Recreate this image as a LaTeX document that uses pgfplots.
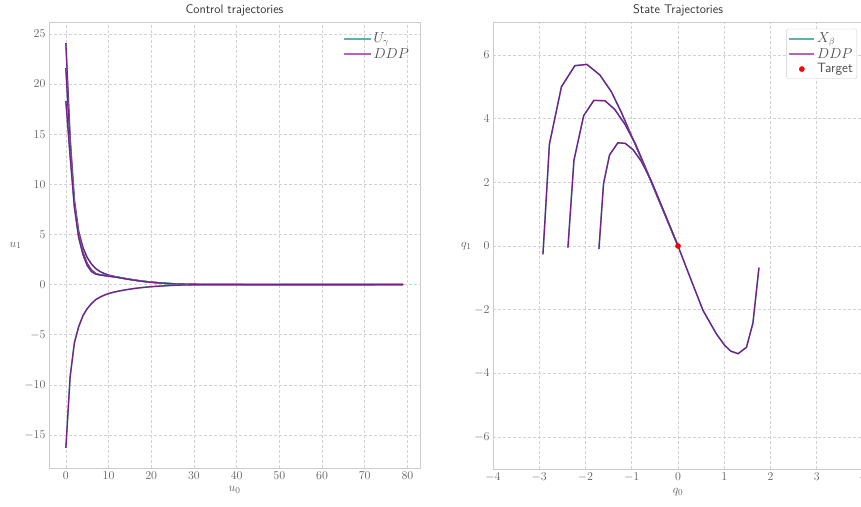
\documentclass[border=0pt]{standalone}
\usepackage{pgfplots}
\pgfplotsset{compat=1.18}
\definecolor{tealc}{RGB}{90,180,172}
\definecolor{ddpc}{RGB}{179,102,179}
\definecolor{lined}{RGB}{120,30,140}
\definecolor{spine}{RGB}{204,204,204}
\definecolor{gridc}{RGB}{210,210,210}
\definecolor{tickc}{RGB}{95,95,95}
\pgfplotsset{
 mystyle/.style={
  scale only axis,
  axis line style={spine, line width=1pt},
  tick style={draw=none},
  grid=major,
  major grid style={gridc, line width=0.6pt, dash pattern=on 3pt off 2pt},
  tick label style={font=\fontsize{11.5}{13}\selectfont, color=tickc},
  label style={font=\fontsize{12.5}{14}\selectfont, color=tickc},
  title style={font=\sffamily\fontsize{12.5}{14}\selectfont, color=black!80, yshift=-3pt},
  legend style={font=\fontsize{13.5}{15}\selectfont, text=black!70, row sep=0pt},
  legend cell align=left,
  ylabel style={rotate=-90},
  ylabel shift=-4pt,
  tline/.style={tealc, line width=1.5pt, forget plot},
  dline/.style={lined, line width=1.3pt, forget plot},
 }
}
\begin{document}
\begin{tikzpicture}
\begin{axis}[mystyle,
  at={(49pt,38pt)}, anchor=south west, width=371pt, height=445pt,
  xmin=-3.95, xmax=82.95, ymin=-18.3, ymax=26.1,
  xtick={0,10,...,80}, ytick={-15,-10,...,25},
  title={Control trajectories}, xlabel={$u_0$}, ylabel={$u_1$},
  legend style={at={(0.984,0.987)}, anchor=north east, draw=none, fill=none},
]
\addlegendimage{legend image code/.code={\draw[tealc, line width=1.8pt] (0pt,0pt) -- (27pt,0pt);}}
\addlegendentry{$U_\gamma$}
\addlegendimage{legend image code/.code={\draw[ddpc, line width=1.8pt] (0pt,0pt) -- (27pt,0pt);}}
\addlegendentry{$DDP$}
% curve A
\addplot[tline] coordinates {(0,24.1)(1,14.6)(2,8.4)(3,5.3)(4,3.7)(5,2.7)(6,2.05)(7,1.6)(8,1.3)(9,1.1)(10,0.95)(11,0.85)(12,0.76)(14,0.6)(16,0.46)(18,0.34)(20,0.25)(22,0.17)(24,0.11)(26,0.07)(28,0.04)(30,0.02)(35,0.01)(79,0)};
\addplot[dline] coordinates {(0,24.1)(1,14.6)(2,8.4)(3,5.3)(4,3.7)(5,2.7)(6,2.05)(7,1.6)(8,1.3)(9,1.1)(10,0.95)(11,0.85)(12,0.76)(14,0.6)(16,0.46)(18,0.34)(20,0.25)(22,0.17)(24,0.11)(26,0.07)(28,0.04)(30,0.02)(35,0.01)(79,0)};
% curve B
\addplot[tline] coordinates {(0,21.6)(1,13.8)(2,8.0)(3,4.9)(4,3.2)(5,2.1)(6,1.45)(7,1.1)(8,0.98)(9,0.92)(10,0.86)(11,0.8)(12,0.74)(14,0.59)(16,0.45)(18,0.33)(20,0.24)(22,0.16)(24,0.1)(26,0.06)(28,0.04)(30,0.02)(35,0.01)(79,0)};
\addplot[dline] coordinates {(0,21.6)(1,13.8)(2,8.0)(3,4.9)(4,3.2)(5,2.1)(6,1.45)(7,1.1)(8,0.98)(9,0.92)(10,0.86)(11,0.8)(12,0.74)(14,0.59)(16,0.45)(18,0.33)(20,0.24)(22,0.16)(24,0.1)(26,0.06)(28,0.04)(30,0.02)(35,0.01)(79,0)};
% curve C
\addplot[tline] coordinates {(0,18.3)(1,12.8)(2,7.7)(3,4.7)(4,3.0)(5,1.9)(6,1.3)(7,1.05)(8,0.96)(9,0.9)(10,0.84)(11,0.78)(12,0.72)(14,0.57)(16,0.44)(18,0.32)(20,0.23)(22,0.16)(24,0.1)(26,0.06)(28,0.04)(30,0.02)(35,0.01)(79,0)};
\addplot[dline] coordinates {(0,18.3)(1,12.8)(2,7.7)(3,4.7)(4,3.0)(5,1.9)(6,1.3)(7,1.05)(8,0.96)(9,0.9)(10,0.84)(11,0.78)(12,0.72)(14,0.57)(16,0.44)(18,0.32)(20,0.23)(22,0.16)(24,0.1)(26,0.06)(28,0.04)(30,0.02)(35,0.01)(79,0)};
% curve D
\addplot[tline] coordinates {(0,-16.3)(1,-9.2)(2,-5.8)(3,-4.2)(4,-3.1)(5,-2.4)(6,-1.9)(7,-1.5)(8,-1.25)(9,-1.05)(10,-0.9)(11,-0.78)(12,-0.68)(14,-0.52)(16,-0.39)(18,-0.29)(20,-0.21)(22,-0.15)(24,-0.1)(26,-0.06)(28,-0.04)(30,-0.02)(35,-0.01)(79,0)};
\addplot[dline] coordinates {(0,-16.3)(1,-9.2)(2,-5.8)(3,-4.2)(4,-3.1)(5,-2.4)(6,-1.9)(7,-1.5)(8,-1.25)(9,-1.05)(10,-0.9)(11,-0.78)(12,-0.68)(14,-0.52)(16,-0.39)(18,-0.29)(20,-0.21)(22,-0.15)(24,-0.1)(26,-0.06)(28,-0.04)(30,-0.02)(35,-0.01)(79,0)};
\end{axis}
\begin{axis}[mystyle,
  at={(493pt,37pt)}, anchor=south west, width=370pt, height=446pt,
  xmin=-4, xmax=4, ymin=-7, ymax=7,
  xtick={-4,-3,...,4}, ytick={-6,-4,...,6},
  title={State Trajectories}, xlabel={$q_0$}, ylabel={$q_1$},
  legend style={at={(0.984,0.987)}, anchor=north east, draw=spine, fill=white, rounded corners=2pt, inner sep=2pt},
]
\addlegendimage{legend image code/.code={\draw[tealc, line width=1.8pt] (0pt,0pt) -- (25pt,0pt);}}
\addlegendentry{$X_\beta$}
\addlegendimage{legend image code/.code={\draw[ddpc, line width=1.8pt] (0pt,0pt) -- (25pt,0pt);}}
\addlegendentry{$DDP$}
\addlegendimage{legend image code/.code={\fill[red] (12.5pt,0pt) circle (2.6pt);}}
\addlegendentry{\sffamily Target}
\addplot[tline] coordinates {(-2.92,-0.26)(-2.78,3.2)(-2.52,5.0)(-2.23,5.66)(-1.97,5.70)(-1.69,5.37)(-1.44,4.84)(-1.22,4.18)(-1.0,3.44)(-0.75,2.6)(-0.5,1.74)(-0.25,0.87)(0,0)};
\addplot[dline] coordinates {(-2.92,-0.26)(-2.78,3.2)(-2.52,5.0)(-2.23,5.66)(-1.97,5.70)(-1.69,5.37)(-1.44,4.84)(-1.22,4.18)(-1.0,3.44)(-0.75,2.6)(-0.5,1.74)(-0.25,0.87)(0,0)};
\addplot[tline] coordinates {(-2.38,-0.05)(-2.25,2.69)(-2.04,4.09)(-1.82,4.57)(-1.58,4.56)(-1.37,4.29)(-1.15,3.83)(-0.92,3.2)(-0.68,2.38)(-0.45,1.56)(-0.22,0.77)(0,0)};
\addplot[dline] coordinates {(-2.38,-0.05)(-2.25,2.69)(-2.04,4.09)(-1.82,4.57)(-1.58,4.56)(-1.37,4.29)(-1.15,3.83)(-0.92,3.2)(-0.68,2.38)(-0.45,1.56)(-0.22,0.77)(0,0)};
\addplot[tline] coordinates {(-1.71,-0.1)(-1.61,1.96)(-1.48,2.86)(-1.30,3.24)(-1.14,3.22)(-0.97,3.02)(-0.79,2.65)(-0.58,2.05)(-0.38,1.35)(-0.18,0.64)(0,0)};
\addplot[dline] coordinates {(-1.71,-0.1)(-1.61,1.96)(-1.48,2.86)(-1.30,3.24)(-1.14,3.22)(-0.97,3.02)(-0.79,2.65)(-0.58,2.05)(-0.38,1.35)(-0.18,0.64)(0,0)};
\addplot[tline] coordinates {(1.75,-0.68)(1.62,-2.42)(1.48,-3.18)(1.30,-3.38)(1.14,-3.30)(1.01,-3.12)(0.83,-2.76)(0.54,-2.02)(0.26,-0.98)(0,0)};
\addplot[dline] coordinates {(1.75,-0.68)(1.62,-2.42)(1.48,-3.18)(1.30,-3.38)(1.14,-3.30)(1.01,-3.12)(0.83,-2.76)(0.54,-2.02)(0.26,-0.98)(0,0)};
\addplot[only marks, mark=*, mark size=2.6pt, red, forget plot] coordinates {(0,0)};
\end{axis}
\pgfresetboundingbox
\path (0pt,0pt) rectangle (861pt,506pt);
\end{tikzpicture}
\end{document}
